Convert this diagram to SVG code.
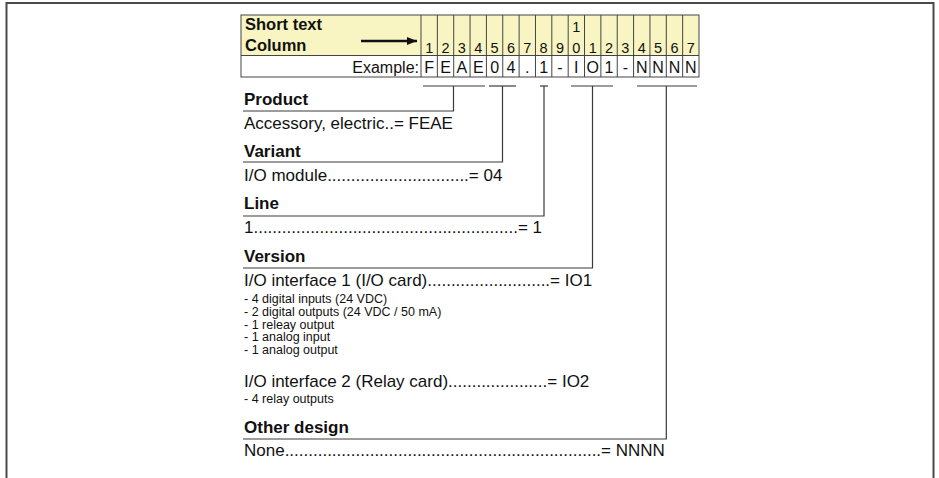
<svg xmlns="http://www.w3.org/2000/svg" width="939" height="478" viewBox="0 0 939 478">
<style>
text{font-family:"Liberation Sans",Arial,sans-serif;fill:#111}
.h{font-weight:bold;font-size:17px}
.t{font-size:17px}
.s{font-size:12.5px}
.hd{font-weight:bold;font-size:16.5px}
.dg{font-size:14.5px;text-anchor:middle}
.ex{font-size:16px;text-anchor:middle}
.g{stroke:#444;stroke-width:1;fill:none}
.c{stroke:#3a3a3a;stroke-width:1.2;fill:none}
</style>
<defs>
<marker id="ah" viewBox="0 0 10 8" refX="10" refY="4" markerWidth="10" markerHeight="8" markerUnits="userSpaceOnUse" orient="auto">
<path d="M0,0 L10,4 L0,8 z" fill="#111"/>
</marker>
</defs>
<g id="frame">
<path d="M6.5,478 V3 H933.5 V478" fill="none" stroke="#4a4a4a" stroke-width="2"/>
</g>
<g id="code-table">
<rect x="241" y="15" width="458" height="40.5" fill="#f8f5c2"/>
<rect x="241" y="55.5" width="458" height="21.5" fill="#fff"/>
<rect x="241" y="15" width="458" height="62" class="g"/>
<line x1="241" y1="55.5" x2="699" y2="55.5" class="g"/>
<g class="g">
<line x1="421" y1="15" x2="421" y2="77"/>
<line x1="437.35" y1="15" x2="437.35" y2="77"/>
<line x1="453.71" y1="15" x2="453.71" y2="77"/>
<line x1="470.06" y1="15" x2="470.06" y2="77"/>
<line x1="486.41" y1="15" x2="486.41" y2="77"/>
<line x1="502.76" y1="15" x2="502.76" y2="77"/>
<line x1="519.12" y1="15" x2="519.12" y2="77"/>
<line x1="535.47" y1="15" x2="535.47" y2="77"/>
<line x1="551.82" y1="15" x2="551.82" y2="77"/>
<line x1="568.18" y1="15" x2="568.18" y2="77"/>
<line x1="584.53" y1="15" x2="584.53" y2="77"/>
<line x1="600.88" y1="15" x2="600.88" y2="77"/>
<line x1="617.24" y1="15" x2="617.24" y2="77"/>
<line x1="633.59" y1="15" x2="633.59" y2="77"/>
<line x1="649.94" y1="15" x2="649.94" y2="77"/>
<line x1="666.29" y1="15" x2="666.29" y2="77"/>
<line x1="682.65" y1="15" x2="682.65" y2="77"/>
</g>
<text class="hd" x="245" y="30">Short text</text>
<text class="hd" x="245" y="51">Column</text>
<line x1="361" y1="41" x2="417" y2="41" stroke="#111" stroke-width="2.4" marker-end="url(#ah)"/>
<text class="dg" x="429.18" y="52.5">1</text>
<text class="dg" x="445.53" y="52.5">2</text>
<text class="dg" x="461.88" y="52.5">3</text>
<text class="dg" x="478.24" y="52.5">4</text>
<text class="dg" x="494.59" y="52.5">5</text>
<text class="dg" x="510.94" y="52.5">6</text>
<text class="dg" x="527.29" y="52.5">7</text>
<text class="dg" x="543.65" y="52.5">8</text>
<text class="dg" x="560" y="52.5">9</text>
<text class="dg" x="576.35" y="32">1</text>
<text class="dg" x="576.35" y="52.5">0</text>
<text class="dg" x="592.71" y="52.5">1</text>
<text class="dg" x="609.06" y="52.5">2</text>
<text class="dg" x="625.41" y="52.5">3</text>
<text class="dg" x="641.76" y="52.5">4</text>
<text class="dg" x="658.12" y="52.5">5</text>
<text class="dg" x="674.47" y="52.5">6</text>
<text class="dg" x="690.82" y="52.5">7</text>
<text x="419" y="73" font-size="16" text-anchor="end">Example:</text>
<text class="ex" x="429.18" y="73">F</text>
<text class="ex" x="445.53" y="73">E</text>
<text class="ex" x="461.88" y="73">A</text>
<text class="ex" x="478.24" y="73">E</text>
<text class="ex" x="494.59" y="73">0</text>
<text class="ex" x="510.94" y="73">4</text>
<text class="ex" x="527.29" y="73">.</text>
<text class="ex" x="543.65" y="73">1</text>
<text class="ex" x="560" y="73">-</text>
<text class="ex" x="576.35" y="73">I</text>
<text class="ex" x="592.71" y="73">O</text>
<text class="ex" x="609.06" y="73">1</text>
<text class="ex" x="625.41" y="73">-</text>
<text class="ex" x="641.76" y="73">N</text>
<text class="ex" x="658.12" y="73">N</text>
<text class="ex" x="674.47" y="73">N</text>
<text class="ex" x="690.82" y="73">N</text>
</g>
<g id="connectors" class="c">
<line x1="423" y1="86" x2="485" y2="86"/>
<line x1="489" y1="86" x2="516" y2="86"/>
<line x1="540" y1="86" x2="548" y2="86"/>
<line x1="571" y1="86" x2="613" y2="86"/>
<line x1="637" y1="86" x2="697" y2="86"/>
<path d="M453.5,86 V111 H243"/>
<path d="M502.5,86 V162 H243"/>
<path d="M544,86 V216 H243"/>
<path d="M592.5,86 V268 H243"/>
<path d="M666.3,86 V439 H243"/>
</g>
<g id="product">
<text class="h" x="244" y="105">Product</text>
<text class="t" x="244" y="129">Accessory, electric..= FEAE</text>
</g>
<g id="variant">
<text class="h" x="244" y="156.5">Variant</text>
<text class="t" x="244" y="181">I/O module..............................= 04</text>
</g>
<g id="line">
<text class="h" x="244" y="209">Line</text>
<text class="t" x="244" y="233">1........................................................= 1</text>
</g>
<g id="version">
<text class="h" x="244" y="262">Version</text>
<text class="t" x="244" y="286">I/O interface 1 (I/O card)..........................= IO1</text>
<text class="s" x="244" y="303">- 4 digital inputs (24 VDC)</text>
<text class="s" x="244" y="315.8">- 2 digital outputs (24 VDC / 50 mA)</text>
<text class="s" x="244" y="328.5">- 1 releay output</text>
<text class="s" x="244" y="341.2">- 1 analog input</text>
<text class="s" x="244" y="354">- 1 analog output</text>
<text class="t" x="244" y="387">I/O interface 2 (Relay card).....................= IO2</text>
<text class="s" x="244" y="403">- 4 relay outputs</text>
</g>
<g id="other-design">
<text class="h" x="244" y="433">Other design</text>
<text class="t" x="244" y="456">None...................................................................= NNNN</text>
</g>
</svg>
